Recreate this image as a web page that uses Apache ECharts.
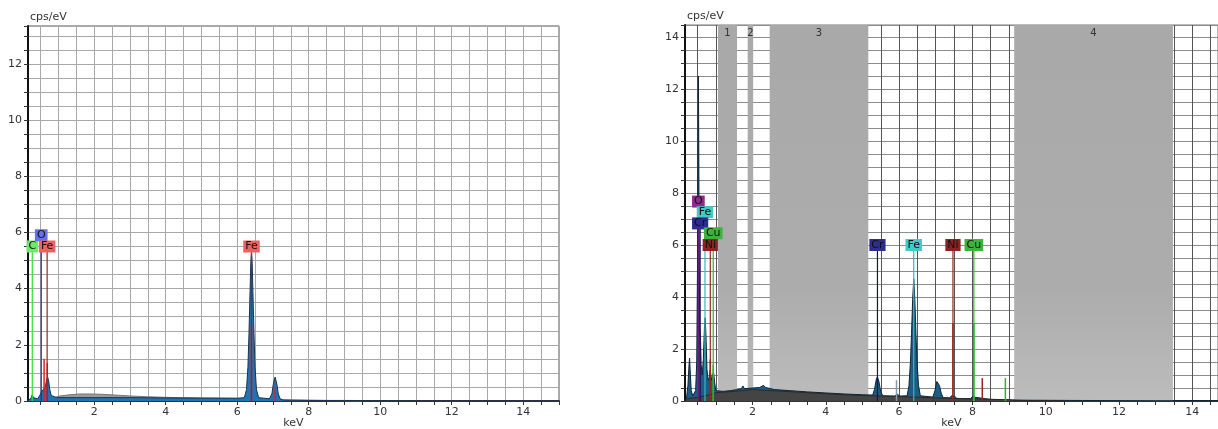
<!DOCTYPE html>
<html>
<head>
<meta charset="utf-8">
<script src="https://cdn.jsdelivr.net/npm/echarts@6/dist/echarts.min.js"></script>
<style>
  html, body { margin: 0; padding: 0; background: #fff; }
  #main { width: 1218px; height: 429px; }
</style>
</head>
<body>
<div id="main"></div>
<script>
// ---- data ----
// left spectrum: [keV, cps/eV]
const leftSpectrum = [
  [0.15, 0], [0.2, 0.03], [0.24, 0.12], [0.27, 0.22], [0.3, 0.12], [0.34, 0.05], [0.42, 0.08],
  [0.48, 0.2], [0.52, 0.3], [0.56, 0.35], [0.6, 0.45], [0.64, 0.55], [0.67, 0.75], [0.7, 0.85],
  [0.73, 0.7], [0.76, 0.4], [0.8, 0.2], [0.85, 0.13], [0.95, 0.12], [1.5, 0.12], [2, 0.12],
  [3, 0.12], [4, 0.11], [5, 0.1], [6, 0.1], [6.2, 0.12], [6.26, 0.4], [6.3, 1.2], [6.33, 2.4],
  [6.36, 3.9], [6.38, 4.9], [6.4, 5.3], [6.42, 4.9], [6.44, 3.9], [6.47, 2.4], [6.5, 1.2],
  [6.54, 0.4], [6.6, 0.12], [6.9, 0.08], [6.97, 0.25], [7.01, 0.6], [7.06, 0.85], [7.11, 0.6],
  [7.15, 0.25], [7.2, 0.08], [7.3, 0.03], [8, 0.02], [9, 0.02], [10.7, 0.01], [11, 0], [15, 0]
];
const leftBackground = [
  [0.75, 0.02], [0.85, 0.1], [1.0, 0.17], [1.3, 0.22], [1.6, 0.25], [1.9, 0.25], [2.2, 0.24],
  [2.6, 0.21], [3.0, 0.18], [3.5, 0.15], [4.0, 0.13], [5.0, 0.11], [6.0, 0.09], [7.0, 0.05],
  [8, 0.03], [9, 0.01], [9.5, 0]
];
const leftLineKeV = [0.6, 0.69, 6.4, 7.06];
const leftLineCps = [1.5, 1.35, 2.7, 0.5];
const leftMarkerNames = ['C', 'O', 'Fe', 'Fe'];
const leftMarkerKeV = [0.27, 0.52, 0.685, 6.4];
const leftMarkerTop = [5.5, 5.9, 5.5, 5.5];

// right spectrum: [keV, cps/eV]
const rightSpectrum = [
  [0.16, 0], [0.2, 0.1], [0.24, 0.6], [0.27, 1.4], [0.285, 1.65], [0.3, 1.2], [0.33, 0.4],
  [0.37, 0.2], [0.42, 0.25], [0.45, 0.4], [0.48, 1.5], [0.5, 5], [0.515, 10], [0.525, 12.5],
  [0.535, 10], [0.55, 5], [0.565, 2.8], [0.58, 2.6], [0.6, 1.4], [0.63, 1.0], [0.66, 1.6],
  [0.69, 2.8], [0.71, 3.2], [0.73, 2.6], [0.76, 1.2], [0.79, 0.8], [0.82, 0.9], [0.85, 1.2],
  [0.88, 0.8], [0.91, 1.0], [0.94, 1.1], [0.97, 0.7], [1.0, 0.4], [1.2, 0.37], [1.4, 0.4],
  [1.6, 0.44], [1.7, 0.47], [1.74, 0.58], [1.78, 0.47], [2.0, 0.5], [2.2, 0.52], [2.3, 0.6],
  [2.36, 0.52], [2.6, 0.44], [3.0, 0.4], [3.5, 0.35], [4.0, 0.31], [4.5, 0.27], [5.0, 0.24],
  [5.28, 0.23], [5.33, 0.45], [5.38, 0.85], [5.41, 0.93], [5.45, 0.75], [5.5, 0.35], [5.56, 0.2],
  [5.88, 0.19], [5.95, 0.26], [6.02, 0.19], [6.22, 0.2], [6.27, 0.6], [6.31, 1.5], [6.34, 2.6],
  [6.37, 3.9], [6.4, 4.7], [6.43, 3.9], [6.46, 2.6], [6.49, 1.5], [6.53, 0.6], [6.58, 0.2],
  [6.92, 0.15], [6.98, 0.4], [7.03, 0.75], [7.06, 0.8], [7.1, 0.6], [7.15, 0.3], [7.2, 0.13],
  [7.38, 0.12], [7.43, 0.2], [7.47, 0.25], [7.52, 0.18], [7.57, 0.1], [7.95, 0.09], [8.0, 0.17],
  [8.04, 0.2], [8.09, 0.14], [8.14, 0.07], [8.5, 0.06], [9.0, 0.04], [9.5, 0.03], [11, 0.02],
  [13, 0.01], [14.7, 0.01]
];
const rightBackground = [
  [0.2, 0.08], [0.5, 0.14], [0.9, 0.26], [1.0, 0.32], [1.5, 0.37], [2.0, 0.44], [2.5, 0.4],
  [3, 0.36], [3.5, 0.32], [4, 0.28], [4.5, 0.24], [5, 0.21], [6, 0.17], [7, 0.12], [8, 0.08],
  [9, 0.05], [9.2, 0.02], [10, 0.01], [10.5, 0]
];
const rightLineKeV = [0.85, 0.93, 5.93, 7.47, 8.04, 8.27, 8.9];
const rightLineCps = [1.6, 1.4, 0.8, 3.0, 3.0, 0.88, 0.88];
const rightLineNames = ['Ni', 'Cu', 'Crb', 'Ni', 'Cu', 'Ni', 'Cu'];
const rightMarkerNames = ['O', 'Fe', 'Cr', 'Cu', 'Ni', 'Cr', 'Fe', 'Ni', 'Cu'];
const rightMarkerKeV = [0.525, 0.705, 0.573, 0.93, 0.85, 5.41, 6.4, 7.47, 8.04];
const rightMarkerTop = [7.67, 7.26, 6.83, 6.45, 6.0, 6.0, 6.0, 6.0, 6.0];

const roiNames = ['1', '2', '3', '4'];
const roiStart = [1.06, 1.87, 2.47, 9.14];
const roiEnd = [1.58, 2.02, 5.16, 13.47];

const xLabels = [2, 4, 6, 8, 10, 12, 14];
const leftYLabels = [0, 2, 4, 6, 8, 10, 12];
const rightYLabels = [0, 2, 4, 6, 8, 10, 12, 14];

// ---- styles ----
const leftColors = {
  C: { bg: '#6ee86e', line: '#33dd33' },
  O: { bg: '#6470ee', line: '#2a2a90' },
  Fe: { bg: '#f06060', line: '#992222' }
};
const rightColors = {
  O: { bg: '#8e2a8e', line: '#6a1a7a' },
  Fe: { bg: '#44c8c8', line: '#33bbbb' },
  Cr: { bg: '#2d2d8c', line: '#151550' },
  Crb: { bg: '#8899aa', line: '#8899aa' },
  Cu: { bg: '#3cb33c', line: '#22bb22' },
  Ni: { bg: '#8b2323', line: '#992222' }
};

const halfSteps = [];
for (let v = 0.5; v <= 15; v += 0.5) halfSteps.push(v);

const font = 'DejaVu Sans';

function markerSeries(xi, keV, top, names, colors) {
  return {
    type: 'custom',
    xAxisIndex: xi, yAxisIndex: xi,
    z: 6,
    silent: true,
    data: keV.map((k, i) => [k, top[i]]),
    renderItem: function (params, api) {
      const name = names[params.dataIndex];
      const c = colors[name];
      const p0 = api.coord([api.value(0), 0]);
      const p1 = api.coord([api.value(0), api.value(1)]);
      return {
        type: 'group',
        children: [
          { type: 'line', shape: { x1: p0[0], y1: p0[1], x2: p1[0], y2: p1[1] },
            style: { stroke: c.line, lineWidth: 1.2 } },
          { type: 'text', x: p1[0], y: p1[1],
            style: { text: name, fill: '#111', backgroundColor: c.bg, padding: [1, 2, 0, 2],
                     align: 'center', verticalAlign: 'middle', font: '11px ' + font } }
        ]
      };
    }
  };
}

function lineSeries(xi, keV, cps, colorOf) {
  return {
    type: 'custom',
    xAxisIndex: xi, yAxisIndex: xi,
    z: 5,
    silent: true,
    data: keV.map((k, i) => [k, cps[i]]),
    renderItem: function (params, api) {
      const p0 = api.coord([api.value(0), 0]);
      const p1 = api.coord([api.value(0), api.value(1)]);
      return { type: 'line', shape: { x1: p0[0], y1: p0[1], x2: p1[0], y2: p1[1] },
               style: { stroke: colorOf(params.dataIndex), lineWidth: 1.5 } };
    }
  };
}

function xAxisFor(i, min, max, splitColor) {
  return {
    type: 'value', gridIndex: i, min: min, max: max,
    name: 'keV', nameLocation: 'middle', nameGap: 17, nameMoveOverlap: false,
    nameTextStyle: { color: '#333', fontFamily: font, fontSize: 11, verticalAlign: 'top' },
    axisLine: { show: true, onZero: false, lineStyle: { color: '#333', width: 2 } },
    axisTick: { show: true, customValues: halfSteps.filter(v => v <= max), length: 4,
                lineStyle: { color: '#333' } },
    axisLabel: { customValues: xLabels, color: '#333', fontFamily: font, fontSize: 11, margin: 6 },
    splitLine: { show: true, lineStyle: { color: splitColor, width: 1 } }
  };
}

function yAxisFor(i, max, labels, splitColor) {
  return {
    type: 'value', gridIndex: i, min: 0, max: max, interval: 0.5,
    name: 'cps/eV', nameLocation: 'end', nameGap: 3,
    nameTextStyle: { color: '#333', fontFamily: font, fontSize: 11, align: 'left', padding: [0, 0, 0, 2] },
    axisLine: { show: true, lineStyle: { color: '#111', width: 2 } },
    axisTick: { show: true, length: 4, lineStyle: { color: '#333' } },
    axisLabel: { customValues: labels, color: '#333', fontFamily: font, fontSize: 11, margin: 6 },
    splitLine: { show: true, lineStyle: { color: splitColor, width: 1 } }
  };
}

const chart = echarts.init(document.getElementById('main'));

const option = {
  backgroundColor: '#fff',
  animation: false,
  grid: [
    { left: 28, top: 26, width: 531, height: 375, show: true, borderColor: '#555', borderWidth: 1,
      outerBoundsMode: 'none' },
    { left: 685, top: 25, width: 533, height: 376, show: true, borderColor: '#777', borderWidth: 1,
      outerBoundsMode: 'none' }
  ],
  xAxis: [
    xAxisFor(0, 0.15, 15, '#a8a8a8'),
    xAxisFor(1, 0.16, 14.7, '#555')
  ],
  yAxis: [
    yAxisFor(0, 13.35, leftYLabels, '#a8a8a8'),
    yAxisFor(1, 14.46, rightYLabels, '#8c8c8c')
  ],
  series: [
    // left chart
    {
      type: 'line', xAxisIndex: 0, yAxisIndex: 0, z: 2, silent: true,
      data: leftBackground, symbol: 'none',
      lineStyle: { color: '#777', width: 1 },
      areaStyle: { color: '#9a9a9a', opacity: 1 }
    },
    {
      type: 'line', xAxisIndex: 0, yAxisIndex: 0, z: 3, silent: true,
      data: leftSpectrum, symbol: 'none',
      lineStyle: { color: '#18344f', width: 1 },
      areaStyle: { color: '#1f74b5', opacity: 1 }
    },
    lineSeries(0, leftLineKeV, leftLineCps, () => '#e02020'),
    markerSeries(0, leftMarkerKeV, leftMarkerTop, leftMarkerNames, leftColors),

    // right chart
    {
      type: 'line', xAxisIndex: 1, yAxisIndex: 1, z: 1, silent: true,
      data: [[0.16, 0]], symbol: 'none', lineStyle: { opacity: 0 },
      markArea: {
        silent: true,
        itemStyle: {
          color: new echarts.graphic.LinearGradient(0, 0, 0, 1, [
            { offset: 0, color: '#a9a9a9' }, { offset: 0.7, color: '#acacac' }, { offset: 1, color: '#bcbcbc' }
          ])
        },
        label: { show: true, position: 'insideTop', distance: 3, color: '#333', fontFamily: font, fontSize: 10 },
        data: roiNames.map((n, i) => [{ name: n, xAxis: roiStart[i] }, { xAxis: roiEnd[i] }])
      }
    },
    {
      type: 'line', xAxisIndex: 1, yAxisIndex: 1, z: 2, silent: true,
      data: rightSpectrum, symbol: 'none',
      lineStyle: { color: '#0e2437', width: 1 },
      areaStyle: { color: '#1e5c86', opacity: 1 }
    },
    {
      type: 'line', xAxisIndex: 1, yAxisIndex: 1, z: 3, silent: true,
      data: rightBackground, symbol: 'none',
      lineStyle: { color: '#2a2a2a', width: 1 },
      areaStyle: { color: '#444', opacity: 1 }
    },
    lineSeries(1, rightLineKeV, rightLineCps, i => rightColors[rightLineNames[i]].line),
    markerSeries(1, rightMarkerKeV, rightMarkerTop, rightMarkerNames, rightColors)
  ]
};

chart.setOption(option);
</script>
</body>
</html>
